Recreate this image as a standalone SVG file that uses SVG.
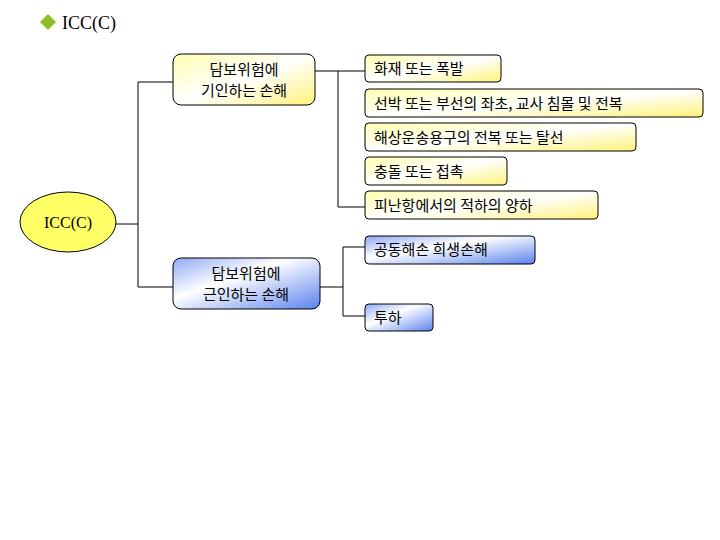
<svg xmlns="http://www.w3.org/2000/svg" width="720" height="540" viewBox="0 0 720 540">
<defs>
<linearGradient id="gy" x1="0" y1="0" x2="1" y2="1"><stop offset="0" stop-color="#ffffb0"/><stop offset="0.5" stop-color="#ffffff"/><stop offset="1" stop-color="#fff27a"/></linearGradient>
<linearGradient id="gb" x1="0" y1="0" x2="1" y2="1"><stop offset="0" stop-color="#8fa8f5"/><stop offset="0.4" stop-color="#ffffff"/><stop offset="1" stop-color="#5a82ee"/></linearGradient>
</defs>
<style>
.y{fill:url(#gy);stroke:#000;stroke-width:1}
.b{fill:url(#gb);stroke:#000;stroke-width:1}
.t{font-family:"Noto Sans CJK KR",sans-serif;font-size:15px;fill:#000}
.c{fill:none;stroke:#000;stroke-width:1}
</style>
<rect width="720" height="540" fill="#fff"/>
<g id="title"><polygon points="48,14 56,22 48,30 40,22" fill="#8cbf26"/><text x="62" y="29" font-family="Liberation Serif,serif" font-size="18">ICC(C)</text></g>
<g id="connectors">
<path class="c" d="M116,224H138M138,82V287M138,82H173M138,287H173"/>
<path class="c" d="M315,71H365M338,71V207H365"/>
<path class="c" d="M320,287H343M343,247V316M343,247H365M343,316H365"/>
</g>
<g id="root"><ellipse cx="68" cy="222" rx="48" ry="30" fill="#ffff66" stroke="#000"/><text x="68" y="228" text-anchor="middle" font-family="Liberation Serif,serif" font-size="16">ICC(C)</text></g>
<g id="n1"><rect class="y" x="173" y="54" width="142" height="51" rx="8"/><text class="t" x="244" y="75" text-anchor="middle">담보위험에</text><text class="t" x="244" y="96" text-anchor="middle">기인하는 손해</text></g>
<g id="n2"><rect class="b" x="173" y="258" width="147" height="51" rx="8"/><text class="t" x="246" y="279" text-anchor="middle">담보위험에</text><text class="t" x="246" y="300" text-anchor="middle">근인하는 손해</text></g>
<g id="l1"><rect class="y" x="365" y="55" width="136" height="27" rx="4"/><text class="t" x="374" y="74">화재 또는 폭발</text></g>
<g id="l2"><rect class="y" x="365" y="89" width="338" height="28" rx="4"/><text class="t" x="374" y="109">선박 또는 부선의 좌초, 교사 침몰 및 전복</text></g>
<g id="l3"><rect class="y" x="365" y="123" width="271" height="28" rx="4"/><text class="t" x="374" y="143">해상운송용구의 전복 또는 탈선</text></g>
<g id="l4"><rect class="y" x="365" y="157" width="142" height="28" rx="4"/><text class="t" x="374" y="177">충돌 또는 접촉</text></g>
<g id="l5"><rect class="y" x="365" y="191" width="233" height="28" rx="4"/><text class="t" x="374" y="211">피난항에서의 적하의 양하</text></g>
<g id="l6"><rect class="b" x="365" y="236" width="170" height="28" rx="4"/><text class="t" x="374" y="255">공동해손 희생손해</text></g>
<g id="l7"><rect class="b" x="365" y="304" width="68" height="27" rx="4"/><text class="t" x="374" y="323">투하</text></g>
</svg>
